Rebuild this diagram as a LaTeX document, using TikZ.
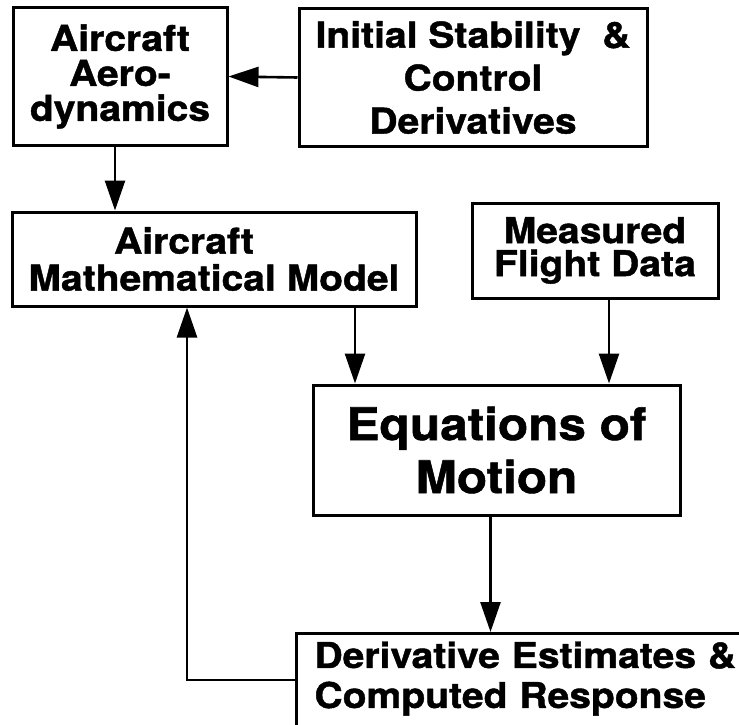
\documentclass[tikz,border=0pt]{standalone}
\usepackage{fontspec}
\setmainfont{TeX Gyre Heros}[FakeStretch=1.1, BoldFeatures={FakeBold=1.2}]
\usetikzlibrary{arrows.meta}
\begin{document}
\begin{tikzpicture}[
			x=1pt, y=-1pt,
			box/.style={draw, line width=3pt, inner sep=0pt, align=center, font=\bfseries\fontsize{35.5}{37}\selectfont},
			big/.style={font=\bfseries\fontsize{45}{53}\selectfont},
			arr/.style={-{Triangle[length=30pt,width=20pt]}, line width=2.6pt}
			]
			\clip (0,0) rectangle (739,725);
			\node[box, minimum width=214pt, minimum height=137pt] (aero) at (120,76.5) {Aircraft\\[-2pt]Aero-\\[-2pt]dynamics};
			\node[box, minimum width=348pt, minimum height=137pt] (init) at (473,77.5) {Initial Stability\ \ \&\\[6pt]Control\\[6pt]Derivatives};
			\node[box, minimum width=404pt, minimum height=94pt] (model) at (214,259) {Aircraft\hspace*{60pt}\\Mathematical Model};
			\node[box, minimum width=246pt, minimum height=95pt] (meas) at (595,250.5) {Measured\\[-4pt]Flight Data};
			\node[box, big, minimum width=367pt, minimum height=130pt] (eom) at (496.5,450) {Equations of\\Motion};
			\node[box, anchor=north west, align=left, text width=440pt, inner xsep=18pt, inner ysep=8pt, text depth=100pt] (est) at (295,632) {Derivative Estimates \&\\[3pt]Computed Response};
			\draw[arr] (init.west) -- (aero.east);
			\draw[arr] ([xshift=-5]aero.south) -- ([xshift=-5]aero.south |- model.north);
			\draw[arr] ([xshift=141]model.south) -- ([xshift=141]model.south |- eom.north);
			\draw[arr] ([xshift=14]meas.south) -- ([xshift=14]meas.south |- eom.north);
			\draw[arr] ([xshift=-6]eom.south) -- ([xshift=-6]eom.south |- est.north);
			\draw[arr] ([yshift=-48]est.north west) -| ([xshift=-27]model.south);
		\end{tikzpicture}
\end{document}
